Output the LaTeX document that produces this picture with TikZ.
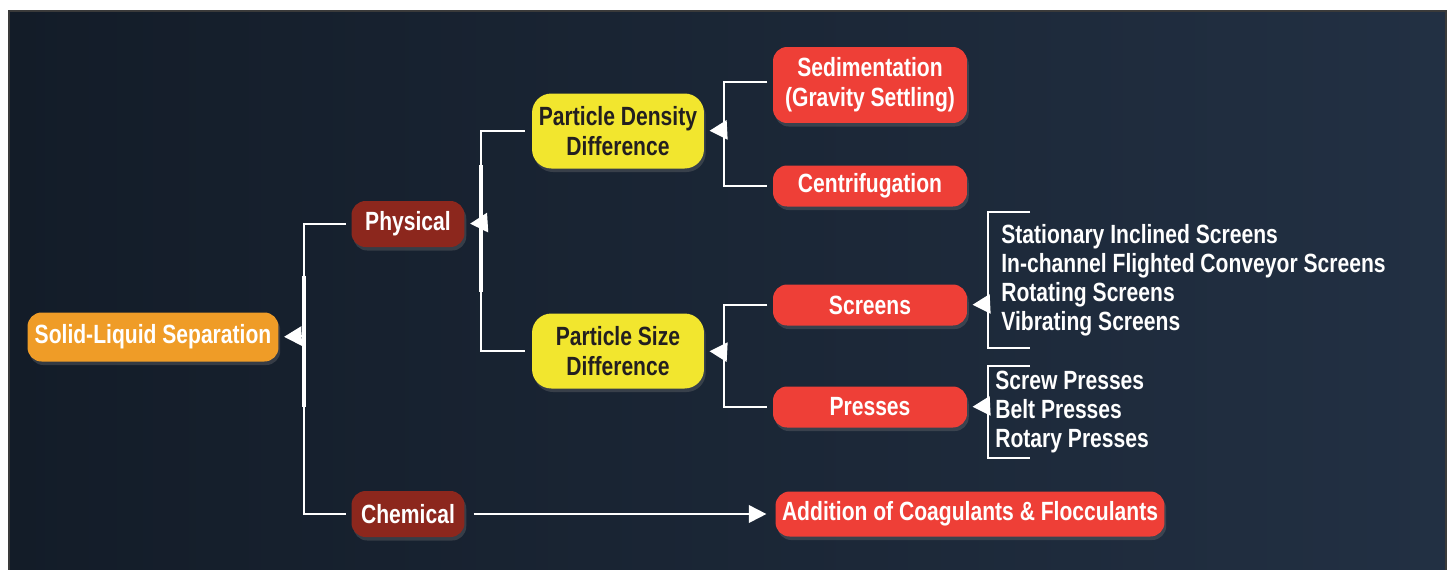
\documentclass[tikz,border=0pt]{standalone}
\usepackage{fontspec}
\setmainfont{Liberation Sans}[FakeStretch=0.80]
\usepackage{xcolor}
\usetikzlibrary{positioning, arrows.meta, shadows}

\definecolor{bgdark}{HTML}{131C28}
\definecolor{bglight}{HTML}{223043}
\definecolor{frame}{HTML}{3A3A3A}
\definecolor{rootcol}{HTML}{EF9C27}
\definecolor{maincol}{HTML}{8C271D}
\definecolor{critcol}{HTML}{F2E62E}
\definecolor{methcol}{HTML}{EE3F37}
\definecolor{inktxt}{HTML}{231F20}

\begin{document}
\begin{tikzpicture}[x=0.02cm, y=-0.02cm,
        box/.style={rectangle, rounded corners=8pt, inner sep=0pt, align=center,
          text=white, font=\fontsize{15}{17.2}\selectfont\bfseries,
          drop shadow={opacity=0.3, shadow xshift=1pt, shadow yshift=-2pt}},
        rootbox/.style={box, fill=rootcol, minimum width=5.02cm, minimum height=0.98cm},
        mainbox/.style={box, fill=maincol, minimum width=2.26cm, minimum height=0.92cm},
        critbox/.style={box, fill=critcol, text=inktxt, rounded corners=11pt, minimum width=3.44cm, minimum height=1.5cm},
        methbox/.style={box, fill=methcol, minimum width=3.88cm, minimum height=0.82cm},
        listtxt/.style={inner sep=0pt, anchor=west, align=left, text=white,
          font=\fontsize{15}{16.6}\selectfont\bfseries},
        link/.style={draw=white, line width=1.1pt},
        bar/.style={draw=white, line width=2.4pt},
        tip/.style={white, line width=1pt, -{Triangle[length=10pt, width=11pt]}, shorten >=3pt}]

        % board
        \useasboundingbox (0,0) rectangle (1450,569);
        \fill[white] (0,0) rectangle (1450,569);
        \shade[left color=bgdark, right color=bglight, draw=frame, line width=0.8pt] (9,11) rectangle (1446,575);

        % boxes
        \node[rootbox] (root) at (153,337) {Solid-Liquid Separation};
        \node[mainbox] (phys) at (408,224) {Physical};
        \node[mainbox] (chem) at (408,514) {Chemical};
        \node[critbox] (dens) at (618,131) {Particle Density\\Difference};
        \node[critbox] (size) at (618,351) {Particle Size\\Difference};
        \node[methbox, minimum height=1.52cm] (sed) at (870,85) {Sedimentation\\(Gravity Settling)};
        \node[methbox] (cent) at (870,186) {Centrifugation};
        \node[methbox] (scr) at (870,305) {Screens};
        \node[methbox] (pre) at (870,407) {Presses};
        \node[box, fill=methcol, minimum width=7.78cm, minimum height=0.9cm] (add) at (970,514) {Addition of Coagulants \& Flocculants};

        % lists
        \node[listtxt] (scrlist) at (1001,280) {Stationary Inclined Screens\\In-channel Flighted Conveyor Screens\\Rotating Screens\\Vibrating Screens};
        \node[listtxt] (prelist) at (995,412) {Screw Presses\\Belt Presses\\Rotary Presses};

        % forks
        \coordinate (rootfork) at (304,336);
        \coordinate (physfork) at (481,223);
        \coordinate (densfork) at (724,130);
        \coordinate (sizefork) at (724,352);
        \coordinate (scrfork) at (988,304);
        \coordinate (prefork) at (988,406);

        \draw[link, shorten <=3pt, shorten >=3pt] (phys.west) -| (rootfork) |- (chem.west);
        \draw[bar] (rootfork) ++(0,-60) -- ++(0,131);
        \draw[tip] (rootfork) -- (root.east);

        \draw[link, shorten <=4pt, shorten >=4pt] (dens.west) -| (physfork) |- (size.west);
        \draw[bar] (physfork) ++(0,-58) -- ++(0,127);
        \draw[tip] (physfork) -- (phys.east);

        \draw[link, shorten <=3pt, shorten >=3pt] (sed.west |- 0,82) -| (densfork) |- (cent.west);
        \draw[tip] (densfork) -- (dens.east);

        \draw[link, shorten <=3pt, shorten >=3pt] (scr.west) -| (sizefork) |- (pre.west);
        \draw[tip] (sizefork) -- (size.east);

        \draw[link] (scrlist.west |- 0,212) ++(29,0) -| (scrfork) |- ++(42,44);
        \draw[tip] (scrfork) -- (scr.east);

        \draw[link] (prelist.west |- 0,366) ++(35,0) -| (prefork) |- ++(42,52);
        \draw[tip] (prefork) -- (pre.east);

        \draw[white, line width=1.1pt, -{Triangle[length=10pt, width=10pt]}, shorten <=5pt, shorten >=5pt] (chem.east) -- (add.west);
\end{tikzpicture}
\end{document}
